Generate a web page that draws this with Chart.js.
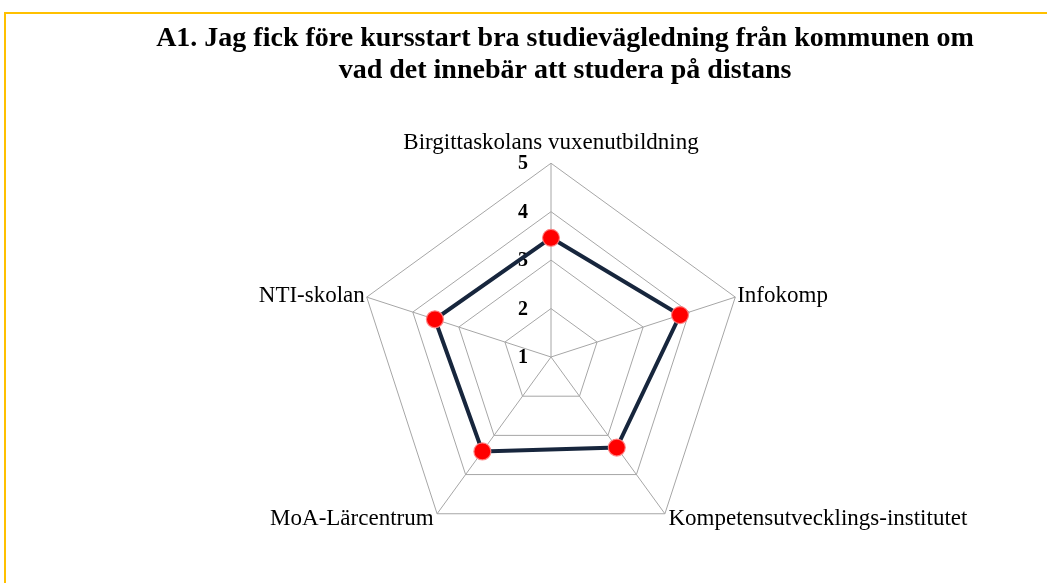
<!DOCTYPE html>
<html>
<head>
<meta charset="utf-8">
<script src="https://cdn.jsdelivr.net/npm/chart.js@4.4.1/dist/chart.umd.min.js"></script>
<style>
  html, body { margin: 0; padding: 0; background: #ffffff; }
  #wrap { width: 1047px; height: 583px; position: relative; }
</style>
</head>
<body>
<div id="wrap"><canvas id="c" width="1047" height="583"></canvas></div>
<script>
const categories = [
  'Birgittaskolans vuxenutbildning',
  'Infokomp',
  'Kompetensutvecklings-institutet',
  'MoA-Lärcentrum',
  'NTI-skolan'
];
const seriesValues = [3.46, 3.80, 3.31, 3.41, 3.52];
const tickLabels = ['1', '2', '3', '4', '5'];
const titleLines = [
  'A1. Jag fick före kursstart bra studievägledning från kommunen om',
  'vad det innebär att studera på distans'
];

const framePlugin = {
  id: 'frame',
  beforeDraw(chart) {
    const ctx = chart.ctx;
    ctx.save();
    ctx.strokeStyle = '#FFC000';
    ctx.lineWidth = 2;
    ctx.beginPath();
    ctx.moveTo(5, 583);
    ctx.lineTo(5, 13);
    ctx.lineTo(1047, 13);
    ctx.stroke();
    ctx.restore();
  }
};

const titleNudge = {
  id: 'titleNudge',
  afterLayout(chart) {
    const t = chart.titleBlock;
    if (t) { t.left += 14; t.right += 14; }
  }
};

const tickPlugin = {
  id: 'tickText',
  beforeDatasetsDraw(chart) {
    const s = chart.scales.r;
    const ctx = chart.ctx;
    ctx.save();
    ctx.font = 'bold 20px "Liberation Serif"';
    ctx.fillStyle = '#000000';
    ctx.textAlign = 'center';
    ctx.textBaseline = 'middle';
    s.ticks.forEach((t, i) => {
      const d = s.getDistanceFromCenterForValue(t.value);
      ctx.fillText(tickLabels[i] !== undefined ? tickLabels[i] : String(t.value), s.xCenter - 28, s.yCenter - d + 1);
    });
    ctx.restore();
  }
};

const labelPads = [20, 2, 6, 6, 2];

new Chart(document.getElementById('c'), {
  type: 'radar',
  data: {
    labels: categories,
    datasets: [{
      data: seriesValues,
      borderColor: '#17263D',
      borderWidth: 4,
      fill: false,
      backgroundColor: 'rgba(0,0,0,0)',
      pointRadius: 8.5,
      pointBackgroundColor: '#FF0000',
      pointBorderColor: 'rgba(255,130,130,0.9)',
      pointBorderWidth: 1.2,
      pointHoverRadius: 8.5
    }]
  },
  options: {
    responsive: false,
    animation: false,
    events: [],
    layout: { padding: { top: 0, bottom: 22, left: 80, right: 25 } },
    plugins: {
      legend: { display: false },
      tooltip: { enabled: false },
      title: {
        display: true,
        text: titleLines,
        color: '#000000',
        font: { family: '"Liberation Serif"', size: 28, weight: 'bold', lineHeight: '32px' },
        padding: { top: 23, bottom: 46 }
      }
    },
    scales: {
      r: {
        min: 1,
        max: 5,
        ticks: { display: false, stepSize: 1 },
        grid: { color: '#A6A6A6', lineWidth: 1 },
        angleLines: { color: '#A6A6A6', lineWidth: 1 },
        pointLabels: {
          color: '#000000',
          font: { family: '"Liberation Serif"', size: 23, lineHeight: 0.01 },
          padding: (ctx) => labelPads[ctx.index]
        }
      }
    }
  },
  plugins: [framePlugin, titleNudge, tickPlugin]
});
</script>
</body>
</html>
